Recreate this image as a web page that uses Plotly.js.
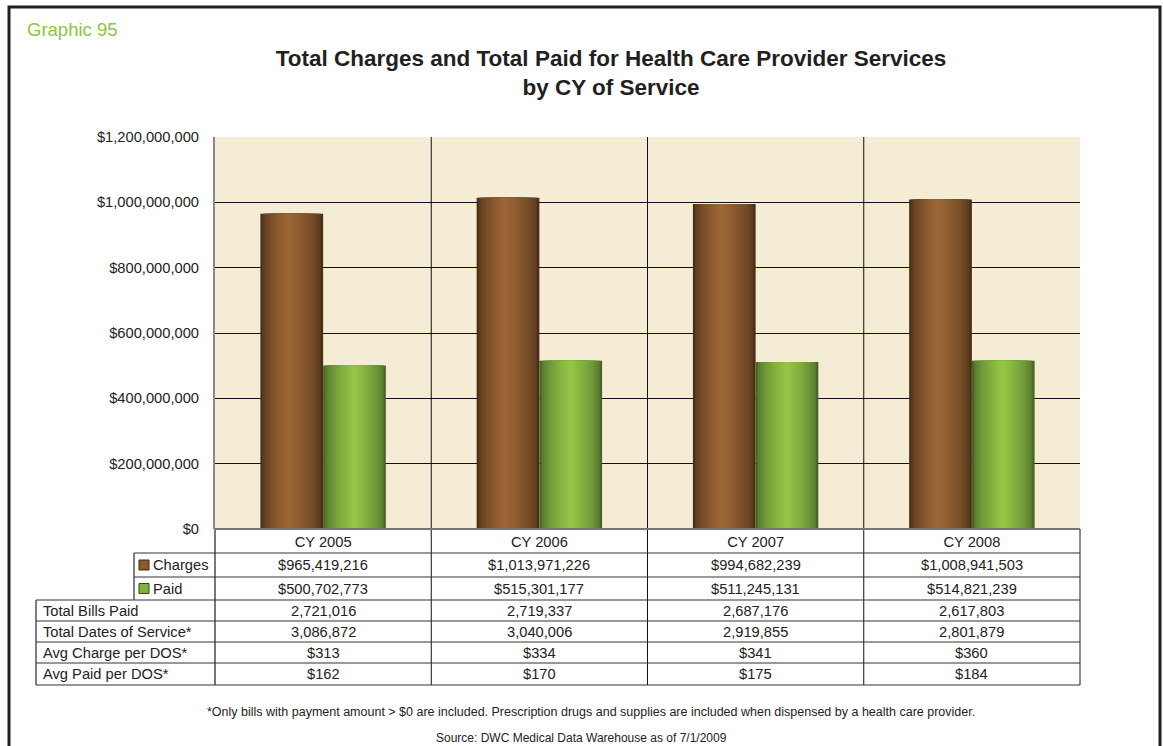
<!DOCTYPE html>
<html>
<head>
<meta charset="utf-8">
<script src="https://cdn.plot.ly/plotly-3.0.1.min.js"></script>
<style>html,body{margin:0;padding:0;background:#fff;}#chart{width:1163px;height:746px;}</style>
</head>
<body>
<div id="chart"></div>
<script>
// ---------- DATA ----------
var categories = ['CY 2005', 'CY 2006', 'CY 2007', 'CY 2008'];
var charges = [965419216, 1013971226, 994682239, 1008941503];
var paid = [500702773, 515301177, 511245131, 514821239];
var totalBillsPaid = [2721016, 2719337, 2687176, 2617803];
var totalDatesOfService = [3086872, 3040006, 2919855, 2801879];
var avgChargePerDOS = [313, 334, 341, 360];
var avgPaidPerDOS = [162, 170, 175, 184];
var seriesNames = ['Charges', 'Paid'];
var rowLabels = ['Total Bills Paid', 'Total Dates of Service*', 'Avg Charge per DOS*', 'Avg Paid per DOS*'];
var yTickValues = [0, 200000000, 400000000, 600000000, 800000000, 1000000000, 1200000000];

// ---------- GEOMETRY HELPERS (pixel -> paper) ----------
var W = 1163, H = 746;
var PL = 215, PR = 1080, PT = 137, PB = 529;
function px(x) { return (x - PL) / (PR - PL); }
function py(y) { return (PB - y) / (PB - PT); }

var FONT = 'Liberation Sans, Arial, sans-serif';
var TS = 14.7;

function hex2rgb(h) { return [parseInt(h.substr(1,2),16), parseInt(h.substr(3,2),16), parseInt(h.substr(5,2),16)]; }
function mix(a, b, t) {
  var A = hex2rgb(a), B = hex2rgb(b);
  return 'rgb(' + [0,1,2].map(function(i){ return Math.round(A[i] + (B[i]-A[i])*t); }).join(',') + ')';
}

// cylinder-like shading built from nested bars of the same data
function shadedBars(name, values, left, width, peakFrac, edge, peak, n) {
  var traces = [];
  var P = left + width * peakFrac, R = left + width;
  for (var k = 0; k < n; k++) {
    var l = left + k * (P - left) / n;
    var r = R - k * (R - P) / n;
    var t = Math.pow(k / (n - 1), 0.55);
    traces.push({
      type: 'bar', name: name, x: categories, y: values,
      offset: l, width: r - l,
      marker: { color: mix(edge, peak, t), line: { width: 0 } },
      hoverinfo: 'skip', showlegend: false
    });
  }
  return traces;
}

var BW = 0.29;
var traces = []
  .concat(shadedBars(seriesNames[0], charges, -BW, BW, 0.45, '#4a2f17', '#9c6636', 14))
  .concat(shadedBars(seriesNames[1], paid, 0, BW, 0.5, '#486628', '#93c546', 14));

// ---------- TABLE ----------
function fmtMoney(v) { return '$' + v.toLocaleString('en-US'); }
function fmtNum(v) { return v.toLocaleString('en-US'); }

var shapes = [];
var annotations = [];
var LINE = '#333';

// outer frame
shapes.push({ type: 'rect', xref: 'paper', yref: 'paper', x0: px(9), x1: px(1160), y0: py(760), y1: py(7),
  line: { color: '#231f20', width: 3 }, fillcolor: 'rgba(0,0,0,0)', layer: 'above' });

// vertical separators in plot and table
[0.5, 1.5, 2.5].forEach(function (xv) {
  shapes.push({ type: 'line', xref: 'x', yref: 'paper', x0: xv, x1: xv, y0: py(685), y1: 1,
    line: { color: '#111', width: 1 }, layer: 'above' });
});
// table outer verticals
shapes.push({ type: 'line', xref: 'paper', yref: 'paper', x0: 0, x1: 0, y0: py(685), y1: 0, line: { color: '#777', width: 2 } });
shapes.push({ type: 'line', xref: 'paper', yref: 'paper', x0: 1, x1: 1, y0: py(685), y1: 0, line: { color: '#666', width: 1.5 } });
shapes.push({ type: 'line', xref: 'paper', yref: 'paper', x0: px(134), x1: px(134), y0: py(600), y1: py(553), line: { color: '#555', width: 1.5 } });
shapes.push({ type: 'line', xref: 'paper', yref: 'paper', x0: px(36), x1: px(36), y0: py(685), y1: py(600), line: { color: '#555', width: 1.5 } });
// horizontals
[[134, 553], [134, 577], [36, 600], [36, 621], [36, 642], [36, 663], [36, 685]].forEach(function (h) {
  shapes.push({ type: 'line', xref: 'paper', yref: 'paper', x0: px(h[0]), x1: 1, y0: py(h[1]), y1: py(h[1]),
    line: { color: LINE, width: 1.2 } });
});
// bottom of plot / top of table
shapes.push({ type: 'line', xref: 'paper', yref: 'paper', x0: 0, x1: 1, y0: 0, y1: 0, line: { color: '#777', width: 2 }, layer: 'above' });

// legend swatches
var swatch = [['#8a5a2c', '#3d2812', 565], ['#7fb33d', '#2f4a18', 588.5]];
swatch.forEach(function (s, i) {
  shapes.push({ type: 'rect', xref: 'paper', yref: 'paper', x0: px(139), x1: px(149), y0: py(s[2] + 5), y1: py(s[2] - 5),
    fillcolor: s[0], line: { color: s[1], width: 1 } });
  annotations.push({ xref: 'paper', yref: 'paper', x: px(151), y: py(s[2]), text: seriesNames[i],
    showarrow: false, xanchor: 'left', yanchor: 'middle', font: { family: FONT, size: TS, color: '#222' } });
});

var seriesRows = [[charges, 565, fmtMoney], [paid, 588.5, fmtMoney]];
var otherRows = [[totalBillsPaid, 610.5, fmtNum], [totalDatesOfService, 631.5, fmtNum],
                 [avgChargePerDOS, 652.5, fmtMoney], [avgPaidPerDOS, 674, fmtMoney]];
seriesRows.concat(otherRows).forEach(function (row) {
  row[0].forEach(function (v, j) {
    annotations.push({ xref: 'x', yref: 'paper', x: categories[j], y: py(row[1]), text: row[2](v),
      showarrow: false, xanchor: 'center', yanchor: 'middle', font: { family: FONT, size: TS, color: '#222' } });
  });
});
otherRows.forEach(function (row, i) {
  annotations.push({ xref: 'paper', yref: 'paper', x: px(41), y: py(row[1]), text: rowLabels[i],
    showarrow: false, xanchor: 'left', yanchor: 'middle', font: { family: FONT, size: TS, color: '#222' } });
});

// header label, footnotes
annotations.push({ xref: 'paper', yref: 'paper', x: px(25), y: py(29), text: 'Graphic 95', showarrow: false,
  xanchor: 'left', yanchor: 'middle', font: { family: FONT, size: 18.5, color: '#8cc63f' } });
annotations.push({ xref: 'paper', yref: 'paper', x: px(591), y: py(712),
  text: '*Only bills with payment amount > $0 are included. Prescription drugs and supplies are included when dispensed by a health care provider.',
  showarrow: false, xanchor: 'center', yanchor: 'middle', font: { family: FONT, size: 12.5, color: '#222' } });
annotations.push({ xref: 'paper', yref: 'paper', x: px(581), y: py(738),
  text: 'Source: DWC Medical Data Warehouse as of 7/1/2009',
  showarrow: false, xanchor: 'center', yanchor: 'middle', font: { family: FONT, size: 12, color: '#222' } });

var layout = {
  width: W, height: H,
  margin: { l: PL, r: W - PR, t: PT, b: H - PB, pad: 0 },
  paper_bgcolor: '#ffffff',
  plot_bgcolor: '#f4ecd4',
  title: {
    text: 'Total Charges and Total Paid for Health Care Provider Services<br>by CY of Service',
    font: { family: FONT, size: 22.5, color: '#231f20', weight: 'bold' },
    x: 611 / W, xanchor: 'center', xref: 'container',
    y: 1 - 66 / H, yanchor: 'middle', yref: 'container'
  },
  barmode: 'overlay',
  showlegend: false,
  xaxis: {
    type: 'category', range: [-0.5, 3.5], showgrid: false, zeroline: false, showline: false,
    ticks: '', ticklabelstandoff: 2, tickfont: { family: FONT, size: TS, color: '#222' }, fixedrange: true
  },
  yaxis: {
    range: [0, 1200000000], tickvals: yTickValues, tickformat: '$,.0f',
    showgrid: true, gridcolor: '#111', gridwidth: 1, zeroline: false,
    showline: true, linecolor: '#888', linewidth: 2, ticks: '', ticklabelstandoff: 11,
    tickfont: { family: FONT, size: TS, color: '#222' }, fixedrange: true
  },
  shapes: shapes,
  annotations: annotations
};

Plotly.newPlot('chart', traces, layout, { staticPlot: true, displayModeBar: false });
</script>
</body>
</html>
